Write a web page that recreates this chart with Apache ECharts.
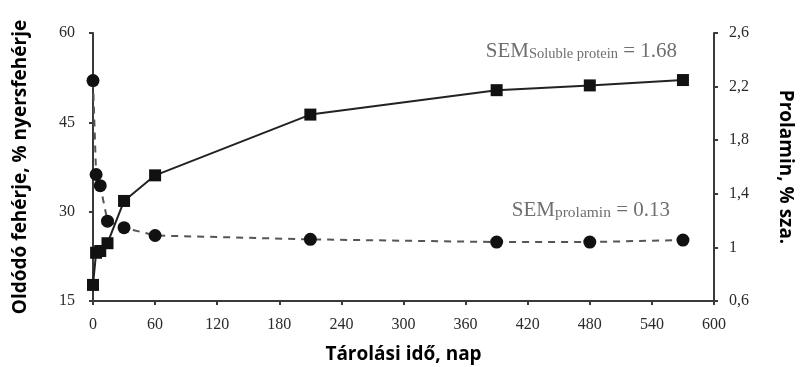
<!DOCTYPE html>
<html>
<head>
<meta charset="utf-8">
<script src="https://cdn.jsdelivr.net/npm/echarts@6/dist/echarts.min.js"></script>
<style>html,body{margin:0;padding:0;background:#fff}#c{width:800px;height:367px}</style>
</head>
<body>
<div id="c"></div>
<script>
var days = [0, 3, 7, 14, 30, 60, 210, 390, 480, 570];
var solubleProtein = [17.7, 23.1, 23.4, 24.7, 31.8, 36.1, 46.3, 50.4, 51.2, 52.1];
var prolamin = [2.245, 1.544, 1.461, 1.196, 1.147, 1.089, 1.06, 1.04, 1.04, 1.055];
var xTicks = {min: 0, max: 600, interval: 60};
var leftTicks = {min: 15, max: 60, interval: 15};
var rightTicks = {min: 0.6, max: 2.6, interval: 0.4};

var chart = echarts.init(document.getElementById('c'));
var serif = '"Liberation Serif", "DejaVu Serif", serif';
var sans = '"Open Sans", "Liberation Sans", sans-serif';
var axisColor = '#3a3a3a';
function pairs(xs, ys) { return xs.map(function (x, i) { return [x, ys[i]]; }); }
var nameStyle = {fontFamily: sans, fontWeight: 'bold', fontSize: 19, color: '#000'};
var labelStyle = {fontFamily: serif, fontSize: 16, color: '#2a2a2a'};

chart.setOption({
  animation: false,
  grid: {left: 93, right: 86, top: 33, bottom: 66, containLabel: false, outerBoundsMode: 'none'},
  xAxis: {
    type: 'value', min: xTicks.min, max: xTicks.max, interval: xTicks.interval,
    name: 'Tárolási idő, nap', nameLocation: 'middle', nameGap: 44,
    nameTextStyle: nameStyle,
    axisLine: {lineStyle: {color: axisColor, width: 2}},
    axisTick: {length: 4, lineStyle: {color: axisColor, width: 2}},
    axisLabel: Object.assign({margin: 16}, labelStyle),
    splitLine: {show: false}
  },
  yAxis: [{
    type: 'value', min: leftTicks.min, max: leftTicks.max, interval: leftTicks.interval,
    name: 'Oldódó fehérje, % nyersfehérje', nameLocation: 'middle', nameGap: 63, nameRotate: 90,
    nameTextStyle: nameStyle,
    axisLine: {show: true, lineStyle: {color: axisColor, width: 2}},
    axisTick: {show: true, length: 4, lineStyle: {color: axisColor, width: 2}},
    axisLabel: Object.assign({margin: 18}, labelStyle),
    splitLine: {show: false}
  }, {
    type: 'value', position: 'right', min: rightTicks.min, max: rightTicks.max, interval: rightTicks.interval,
    name: 'Prolamin, % sza.', nameLocation: 'middle', nameGap: 62, nameRotate: -90,
    nameTextStyle: nameStyle,
    axisLine: {show: true, lineStyle: {color: axisColor, width: 2}},
    axisTick: {show: true, length: 4, lineStyle: {color: axisColor, width: 2}},
    axisLabel: Object.assign({margin: 15,
      formatter: function (v) { return String(Math.round(v * 10) / 10).replace('.', ','); }}, labelStyle),
    splitLine: {show: false}
  }],
  series: [{
    type: 'line', yAxisIndex: 1, data: pairs(days, prolamin),
    symbol: 'circle', symbolSize: 13,
    lineStyle: {color: '#555', width: 2, type: [7, 6]},
    itemStyle: {color: '#111'}, z: 2
  }, {
    type: 'line', yAxisIndex: 0, data: pairs(days, solubleProtein),
    symbol: 'rect', symbolSize: 12,
    lineStyle: {color: '#222', width: 2},
    itemStyle: {color: '#111'}, z: 3
  }],
  graphic: [{
    type: 'text', right: 123, top: 41,
    style: {
      rich: {
        a: {fontFamily: serif, fontSize: 21, fill: '#6f6f6f', lineHeight: 24},
        b: {fontFamily: serif, fontSize: 14.5, fill: '#6f6f6f', lineHeight: 24, padding: [6, 0, 0, 0]}
      },
      text: '{a|SEM}{b|Soluble protein}{a| = 1.68}'
    }
  }, {
    type: 'text', right: 130, top: 199,
    style: {
      rich: {
        a: {fontFamily: serif, fontSize: 21, fill: '#6f6f6f', lineHeight: 24},
        b: {fontFamily: serif, fontSize: 15.5, fill: '#6f6f6f', lineHeight: 24, padding: [6, 0, 0, 0]}
      },
      text: '{a|SEM}{b|prolamin}{a| = 0.13}'
    }
  }]
});
</script>
</body>
</html>
